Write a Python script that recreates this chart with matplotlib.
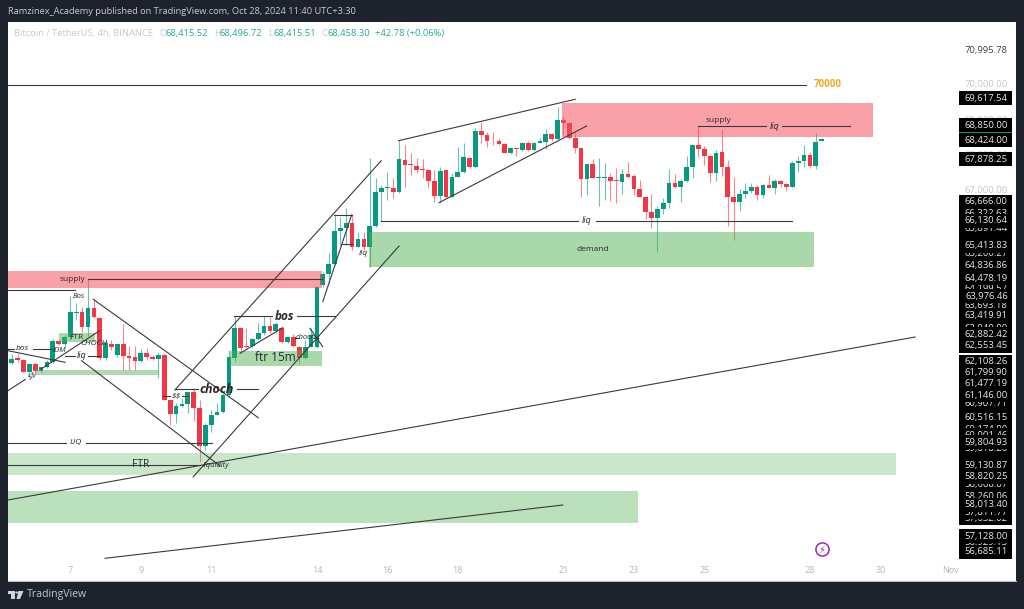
import matplotlib
matplotlib.use('Agg')
import matplotlib.pyplot as plt
from matplotlib.patches import Polygon, Rectangle, Circle

plt.rcParams['font.family'] = ['Open Sans', 'DejaVu Sans']

# 4h candles
opens = [62060, 62200, 62150, 61820, 62040, 61850, 61940, 62100, 62690, 62610,
         62800, 63500, 63510, 63100, 63625, 63360, 62200, 62610, 62295, 62610,
         62265, 62225, 62130, 62360, 62245, 62180, 62295, 61010, 60610, 60840,
         60895, 61250, 60770, 59705, 60295, 60580, 60660, 61150, 62200, 63055,
         62540, 62550, 62740, 62910, 63120, 62980, 63055, 62675, 62815, 62530,
         62200, 62530, 62530, 64292, 64606, 64890, 65842, 65910, 66050, 65385,
         65605, 65385, 65985, 66955, 67060, 67070, 66955, 67860, 67745, 67695,
         67595, 67575, 67270, 66830, 67565, 66815, 67385, 67525, 67925, 67650,
         68695, 68575, 68440, 68410, 68305, 68050, 68190, 68145, 68355, 68145,
         68355, 68380, 68590, 68460, 68990, 68905, 68480, 68210, 67310, 67745,
         67345, 67355, 67365, 67290, 67240, 67450, 67400, 67040, 66815, 66385,
         66195, 66450, 66640, 67195, 67100, 67260, 67670, 68290, 68165, 67975,
         67500, 68080, 67670, 66815, 66670, 66890, 66975, 67100, 66850, 67145,
         67060, 67260, 67175, 67100, 67765, 67820, 67990, 67690, 68415.52]
highs = [62310, 62310, 62170, 62060, 62060, 61960, 62150, 62740, 62720, 62865,
         63978, 63770, 63675, 64463, 63880, 63390, 62720, 62720, 62630, 63180,
         62550, 62550, 62455, 62485, 62295, 62390, 62315, 61010, 60915, 61060,
         61265, 61340, 61010, 60345, 60725, 60915, 61200, 62435, 63390, 63100,
         63055, 62770, 63215, 63405, 63390, 63245, 63100, 62835, 62895, 62550,
         62720, 63055, 64265, 64672, 65195, 66290, 66240, 66480, 66290, 65815,
         65815, 67905, 67335, 67145, 67525, 67335, 68410, 68285, 68050, 67925,
         67890, 67575, 67575, 67650, 67565, 67480, 68240, 68335, 67955, 68765,
         68935, 68650, 68650, 68480, 68335, 68220, 68190, 68385, 68400, 68385,
         68480, 68745, 68620, 69360, 69095, 68955, 68670, 68210, 67745, 67890,
         67905, 67765, 67480, 67620, 67595, 67810, 67460, 67290, 66815, 66880,
         66545, 66785, 67595, 67460, 67310, 67975, 68290, 68830, 68260, 68000,
         68145, 68735, 67860, 67365, 67020, 67210, 67210, 67145, 67165, 67430,
         67310, 67290, 67195, 67830, 67975, 68290, 68095, 68640, 68496.72]
lows = [62040, 62100, 61800, 61720, 61720, 61820, 61910, 62075, 62580, 62510,
        62720, 63300, 62960, 62836, 63340, 62150, 62150, 62440, 62245, 61865,
        61865, 61865, 62105, 62150, 62150, 61630, 61010, 60295, 60345, 60820,
        60630, 60420, 59250, 59580, 60105, 60580, 60630, 61105, 62105, 62360,
        62480, 62485, 62720, 62865, 62910, 62910, 62645, 62645, 62510, 62040,
        62170, 62510, 62485, 64245, 64360, 64860, 65435, 65435, 65290, 65365,
        65290, 64815, 65955, 66100, 66720, 66765, 66910, 67100, 67430, 67480,
        67335, 67070, 66670, 66640, 66765, 66795, 67365, 67495, 67620, 67620,
        68335, 68220, 68290, 68290, 68050, 68030, 67985, 68125, 68125, 68125,
        68335, 68175, 68410, 68430, 68570, 68450, 68050, 66815, 66860, 67335,
        66555, 66720, 66700, 66620, 66890, 67355, 66860, 66795, 66165, 65910,
        65245, 66320, 66480, 67070, 66670, 67240, 67335, 67955, 67715, 67220,
        67260, 67400, 65975, 65575, 66410, 66765, 66925, 66720, 66765, 67050,
        66890, 67100, 66975, 67080, 67525, 67650, 67650, 67595, 68415.51]
closes = [62170, 62150, 61820, 62040, 61840, 61940, 62100, 62700, 62610, 62800,
          63510, 63530, 63100, 63625, 63370, 62200, 62625, 62510, 62610, 62265,
          62220, 62130, 62360, 62245, 62180, 62295, 61010, 60610, 60840, 60895,
          61230, 60770, 59705, 60295, 60590, 60660, 61150, 62225, 63055, 62485,
          62510, 62740, 62910, 63120, 62980, 63180, 62675, 62815, 62550, 62200,
          62530, 62865, 64245, 64606, 64890, 65842, 65910, 66050, 65385, 65605,
          65365, 65985, 66935, 67050, 67090, 66955, 67880, 67715, 67715, 67575,
          67575, 67270, 66830, 67555, 66795, 67385, 67525, 67935, 67670, 68695,
          68575, 68400, 68420, 68305, 68070, 68190, 68165, 68355, 68145, 68355,
          68400, 68590, 68460, 68990, 68905, 68480, 68210, 67310, 67745, 67355,
          67375, 67385, 67270, 67270, 67450, 67385, 67040, 66815, 66385, 66195,
          66450, 66640, 67195, 67100, 67260, 67670, 68290, 68165, 67975, 67500,
          68070, 67670, 66815, 66670, 66890, 66975, 67100, 66850, 67145, 67060,
          67270, 67175, 67100, 67765, 67830, 67990, 67690, 68380, 68458.30]

# date ticks, positions are candle numbers
date_pos = [10, 22, 34, 52, 64, 76, 94, 106, 118, 136, 148, 160]
date_labels = ['7', '9', '11', '14', '16', '18', '21', '23', '25', '28', '30', 'Nov']

# zones: start, end, top, bottom, alpha
red_zones = [(93.75, 146.7, 69478, 68525), (-0.63, 52.86, 64700, 64198)]
green_zones = [(60.9, 136.7, 65813, 64797, 0.48),
               (37.2, 52.9, 62416, 61988, 0.48),
               (8.1, 14.2, 62931, 62674, 0.48),
               (4, 24.9, 61866, 61715, 0.45),
               (-0.63, 150.6, 59489, 58870, 0.3),
               (-0.63, 106.7, 58413, 57500, 0.38)]

# trend lines: x0, price0, x1, price1
trend_lines = [(65.9, 68410, 96.0, 69592), (72.8, 66641, 97.95, 68830),
               (27.8, 61295, 62.96, 67840), (30.9, 58812, 66.0, 65405),
               (13.9, 63884, 42.0, 60505), (11.9, 62132, 35.5, 59126),
               (-0.63, 58156, 153.9, 62808), (15.9, 56492, 93.9, 58013),
               (-0.63, 61275, 2.3, 61596), (5, 61892, 15.0, 62988),
               (-0.63, 62417, 9.1, 62086), (38.9, 62343, 46.2, 63073),
               (50.8, 63056, 53, 62531), (53, 63815, 57.9, 66290)]

# level lines: price, start, end
level_lines = [(70000, -0.63, 135.3), (64149, -0.63, 10.8), (64463, 12.95, 52.8),
               (62274, 9.08, 10.8), (62274, 13, 15.04), (62466, -0.63, 0.4),
               (62466, 3.6, 6.87), (59791, -0.63, 9.25), (59791, 12.66, 34.1),
               (59155, -0.63, 32.1), (61124, 25.8, 27), (61124, 29, 30),
               (61315, 27.9, 31.7), (61315, 38.4, 42), (63407, 37.9, 44.3),
               (63407, 48.6, 55), (62788, 48.3, 49), (62788, 51.5, 52.2),
               (66290, 54.9, 57.9), (65454, 56.2, 57.9), (68821, 116.9, 128.5),
               (68821, 131.2, 142.9), (66119, 63, 96.5), (66119, 99.5, 133)]

# chart notes: text, x, price, size, style, weight, rotation
notes = [('supply', 10.4, 64435, 6, 'normal', 'normal', 0),
         ('supply', 120.4, 68973, 6, 'normal', 'normal', 0),
         ('demand', 99, 65291, 6, 'normal', 'normal', 0),
         ('liq', 129.9, 68821, 6.5, 'italic', 'normal', 0),
         ('liq', 98, 66119, 6.5, 'italic', 'normal', 0),
         ('liq', 59.9, 65177, 6, 'italic', 'normal', 0),
         ('liq', 11.9, 62274, 6.5, 'italic', 'normal', 0),
         ('bos', 1.9, 62466, 6, 'italic', 'normal', 0),
         ('Bos', 11.5, 63958, 5.5, 'italic', 'normal', 0),
         ('IDM', 8.06, 62417, 5.5, 'italic', 'normal', 0),
         ('CHOCH', 14, 62628, 6, 'italic', 'normal', 0),
         ('FTR', 10.95, 62800, 6, 'normal', 'normal', 0),
         ('$$', 3.5, 61703, 6, 'italic', 'normal', 35),
         ('$$', 28, 61124, 6, 'italic', 'normal', 0),
         ('LIQ', 11, 59791, 6, 'italic', 'normal', 0),
         ('FTR', 22, 59183, 7.5, 'normal', 'normal', 0),
         ('liquidity', 34.75, 59147, 5.5, 'italic', 'normal', 0),
         ('choch', 34.9, 61315, 9, 'italic', 'bold', 0),
         ('choch', 50.1, 62788, 5.5, 'italic', 'normal', 0),
         ('bos', 46.4, 63407, 8.5, 'italic', 'bold', 0),
         ('ftr 15m', 45, 62218, 8.5, 'normal', 'normal', 0)]

# price scale
grid_prices = [70000, 69000, 68000, 67000]
blank_tags = [68458.30, 65640.00, 59343.00]
tag_prices = [66322.63, 65891.44, 65200.27, 64199.57,
              63693.18, 63040.00, 60907.71, 60174.00, 60001.46, 59618.26,
              58608.07, 58260.06, 57632.02, 57811.77, 56929.13, 69617.54, 68850.00,
              68424.00, 67878.25, 66666.00, 66130.64, 65413.83, 64836.86, 64478.19,
              63976.46, 63419.91, 62882.42, 62553.45, 62108.26, 61799.90, 61477.19,
              61146.00, 60516.15, 59804.93, 59130.87, 58820.25, 58013.40, 57128.00,
              56685.11]

GREEN = '#089981'
RED = '#f23645'
DARK = '#1e222d'
LINE = '#3a3a3a'
W, H = 1024, 609

fig = plt.figure(figsize=(W / 100, H / 100), dpi=100, facecolor=DARK)
ax = fig.add_axes([8 / W, (H - 581) / H, 1008 / W, 559 / H], facecolor='white')
ax.set_xlim(-0.63, 171.1)
ax.set_ylim(55844, 71798)
for s in ['top', 'left', 'right']:
    ax.spines[s].set_visible(False)
ax.spines['bottom'].set_color('#b8bbc2')
ax.set_yticks([])
ax.set_xticks(date_pos)
ax.set_xticklabels(date_labels, fontsize=6.5, color='#b2b5be')
ax.tick_params(axis='x', length=0, pad=-10.5)

# candles
for i in range(len(opens)):
    color = GREEN if closes[i] >= opens[i] else RED
    ax.vlines(i, lows[i], highs[i], color=color, lw=0.8, alpha=0.6, zorder=2)
    ax.bar(i, abs(closes[i] - opens[i]), bottom=min(opens[i], closes[i]), width=0.8,
           color=color, lw=0, zorder=3)

# zones go over the candles, they are see-through
for x0, x1, top, bottom in red_zones:
    ax.add_patch(Rectangle((x0, bottom), x1 - x0, top - bottom, fc='#f7525f', alpha=0.55, lw=0, zorder=4))
for x0, x1, top, bottom, a in green_zones:
    ax.add_patch(Rectangle((x0, bottom), x1 - x0, top - bottom, fc='#4caf50', alpha=a, lw=0, zorder=4))

for x0, p0, x1, p1 in trend_lines:
    ax.plot([x0, x1], [p0, p1], color=LINE, lw=0.8, zorder=5)
for price, x0, x1 in level_lines:
    ax.plot([x0, x1], [price, price], color=LINE, lw=0.8, zorder=5)

for text, x, price, size, style, weight, rot in notes:
    ax.text(x, price, text, fontsize=size, style=style, weight=weight, rotation=rot,
            color='#2a2a2a', ha='center', va='center', zorder=6, parse_math=False)
ax.text(136.7, 70000, '70000', fontsize=7, weight='bold', color='#f5a623', ha='left', va='center', zorder=6)

# price scale labels
ax.text(169.7, 70995.78, '70,995.78', fontsize=6.8, color='#3b3f4a', ha='right', va='center', zorder=7)
for p in grid_prices:
    ax.text(169.7, p, f'{p:,.2f}', fontsize=6.8, color='#c3c6cc', ha='right', va='center', zorder=7)
tag_h = 14 * 28.54
ax.add_patch(Rectangle((161.4, blank_tags[0] - tag_h / 2), 9, tag_h, fc=GREEN, lw=0, zorder=7.5))
for p in blank_tags[1:]:
    ax.add_patch(Rectangle((161.4, p - tag_h / 2), 9, tag_h, fc='black', lw=0, zorder=7.5))
for k, p in enumerate(tag_prices):
    z = 8 + k * 0.01
    ax.add_patch(Rectangle((161.4, p - tag_h / 2), 9, tag_h, fc='black', lw=0, zorder=z))
    ax.text(169.7, p, f'{p:,.2f}', fontsize=6.8, color='#e8e8e8', ha='right', va='center', zorder=z + 0.005)

# purple lightning badge
ax.plot([138], [56758], marker='o', ms=9.5, mfc='none', mec='#9c27b0', mew=1.1, zorder=6)
ax.text(138, 56745, '\u26a1', fontsize=7, color='#9c27b0', ha='center', va='center',
        family='DejaVu Sans', zorder=6)

# header and footer text
fig.text(8 / W, 1 - 12 / H, 'Ramzinex_Academy published on TradingView.com, Oct 28, 2024 11:40 UTC+3:30',
         fontsize=6.7, color='#c8cad0', va='center')
legend_y = 1 - 33.5 / H
fig.text(14.5 / W, legend_y, 'Bitcoin / TetherUS, 4h, BINANCE', fontsize=6.75, color='#c5c8cf', va='center')
for letter, lx, value, vx in [('O', 159, '68,415.52', 166), ('H', 214, '68,496.72', 220),
                              ('L', 268, '68,415.51', 273), ('C', 321, '68,458.30', 327)]:
    fig.text(lx / W, legend_y, letter, fontsize=6.75, color='#c5c8cf', va='center')
    fig.text(vx / W, legend_y, value, fontsize=6.75, color='#22ab94', va='center')
fig.text(375 / W, legend_y, '+42.78 (+0.06%)', fontsize=6.75, color='#22ab94', va='center')

# TradingView logo
logo_t = [(8, 591), (15, 591), (15, 599), (11, 599), (11, 594), (8, 594)]
logo_v = [(18.5, 591), (23.5, 591), (20, 599), (16.5, 599)]
for shape in [logo_t, logo_v]:
    fig.add_artist(Polygon([(x / W, 1 - y / H) for x, y in shape], fc='#d1d4dc', lw=0,
                           transform=fig.transFigure))
fig.add_artist(Circle((16.8 / W, 1 - 592.5 / H), 0.0016, fc='#d1d4dc', lw=0, transform=fig.transFigure))
fig.text(27 / W, 1 - 595 / H, 'TradingView', fontsize=7.6, color='#c3c6cc', va='center')

fig.savefig('out.png', dpi=100, facecolor=DARK)
